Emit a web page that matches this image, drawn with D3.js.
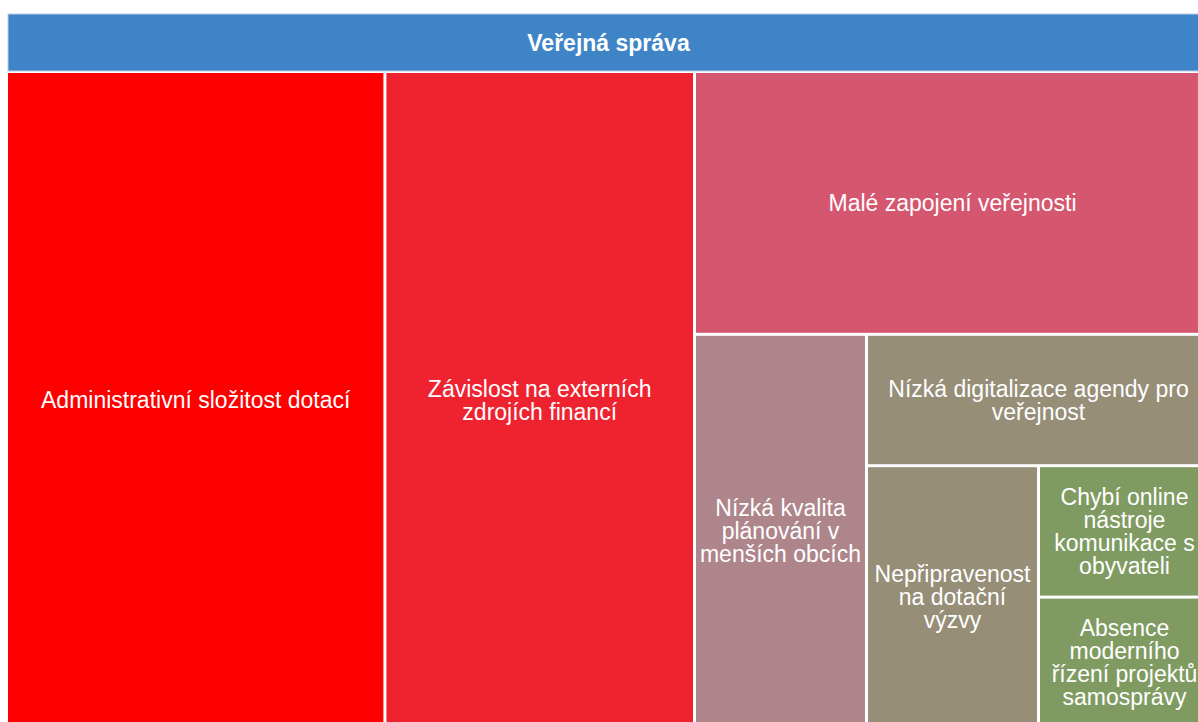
<!DOCTYPE html>
<html>
<head>
<meta charset="utf-8">
<script src="https://cdn.jsdelivr.net/npm/d3@7"></script>
<style>
  html, body { margin: 0; padding: 0; background: #fff; overflow: hidden; }
  svg { display: block; overflow: visible; }
  text { font-family: Arial, "Liberation Sans", sans-serif; }
</style>
</head>
<body>
<svg id="chart" width="1198" height="722"></svg>
<script>
// ---- data ----
const rootName = "Veřejná správa";
const categories = [
  "Administrativní složitost dotací",
  "Závislost na externích\nzdrojích financí",
  "Malé zapojení veřejnosti",
  "Nízká kvalita\nplánování v\nmenších obcích",
  "Nízká digitalizace agendy pro\nveřejnost",
  "Nepřipravenost\nna dotační\nvýzvy",
  "Chybí online\nnástroje\nkomunikace s\nobyvateli",
  "Absence\nmoderního\nřízení projektů\nsamosprávy"
];
const values = [11, 9, 6, 3, 2, 2, 1, 1];
const colorStops = [1, 2, 3, 6, 9, 11];
const colorRange = ["#7f9b62", "#968e77", "#ad858b", "#d5566f", "#ef2330", "#ff0000"];

// ---- layout ----
const originX = 8, originY = 14;
const W = 1201, H = 713;
const headerH = 57;
const fontSize = 23;
const lineH = 23;

const color = d3.scaleLinear().domain(colorStops).range(colorRange);

// one-at-a-time tiling: each node takes a strip along the longer side
function tileStrip(parent, x0, y0, x1, y1) {
  let remaining = parent.value;
  for (const node of parent.children) {
    const dx = x1 - x0, dy = y1 - y0;
    const frac = remaining ? node.value / remaining : 0;
    const row = { children: [node], value: node.value };
    if (dx >= dy) {
      const nx = x0 + dx * frac;
      d3.treemapDice(row, x0, y0, nx, y1);
      x0 = nx;
    } else {
      const ny = y0 + dy * frac;
      d3.treemapSlice(row, x0, y0, x1, ny);
      y0 = ny;
    }
    remaining -= node.value;
  }
}

const data = { name: rootName, children: categories.map((c, i) => ({ name: c, value: values[i] })) };
const root = d3.hierarchy(data).sum(d => d.value || 0);

d3.treemap()
  .size([W, H])
  .tile(tileStrip)
  .paddingTop(headerH + 2)
  .paddingInner(3)
  (root);

const svg = d3.select("#chart");
const g = svg.append("g").attr("transform", `translate(${originX},${originY})`);

// header
g.append("rect")
  .attr("x", root.x0).attr("y", root.y0)
  .attr("width", root.x1 - root.x0).attr("height", headerH)
  .attr("fill", "#3f84c6")
  .attr("stroke", "#b9d0ea").attr("stroke-width", 1);
g.append("text")
  .attr("x", (root.x0 + root.x1) / 2)
  .attr("y", root.y0 + headerH / 2)
  .attr("dy", "0.35em")
  .attr("text-anchor", "middle")
  .attr("fill", "#fff")
  .attr("font-weight", "bold")
  .attr("font-size", fontSize)
  .text(rootName);

const leaves = g.selectAll("g.leaf").data(root.leaves()).join("g").attr("class", "leaf");
leaves.append("rect")
  .attr("x", d => d.x0).attr("y", d => d.y0)
  .attr("width", d => d.x1 - d.x0).attr("height", d => d.y1 - d.y0)
  .attr("fill", d => color(d.data.value));

leaves.each(function(d) {
  const lines = d.data.name.split("\n");
  const cx = (d.x0 + d.x1) / 2, cy = (d.y0 + d.y1) / 2;
  const t = d3.select(this).append("text")
    .attr("text-anchor", "middle")
    .attr("fill", "#fff")
    .attr("font-size", fontSize);
  lines.forEach((ln, i) => {
    t.append("tspan")
      .attr("x", cx)
      .attr("y", cy + (i - (lines.length - 1) / 2) * lineH)
      .attr("dy", "0.35em")
      .text(ln);
  });
});
</script>
</body>
</html>
